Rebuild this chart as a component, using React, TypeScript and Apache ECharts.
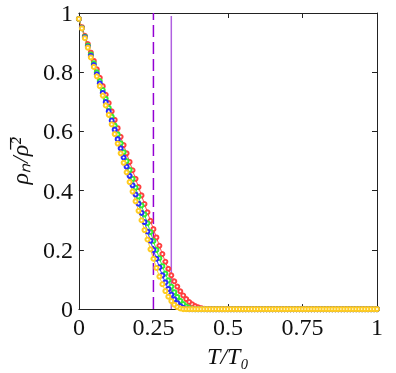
import React, { useEffect, useRef } from "react";
import * as echarts from "echarts";

const temps = [
  0, 0.01, 0.02, 0.03, 0.04, 0.05, 0.06, 0.07, 0.08, 0.09,
  0.1, 0.11, 0.12, 0.13, 0.14, 0.15, 0.16, 0.17, 0.18, 0.19,
  0.2, 0.21, 0.22, 0.23, 0.24, 0.25, 0.26, 0.27, 0.28, 0.29,
  0.3, 0.31, 0.32, 0.33, 0.34, 0.35, 0.36, 0.37, 0.38, 0.39,
  0.4, 0.41, 0.42, 0.43, 0.44, 0.45, 0.46, 0.47, 0.48, 0.49,
  0.5, 0.51, 0.52, 0.53, 0.54, 0.55, 0.56, 0.57, 0.58, 0.59,
  0.6, 0.61, 0.62, 0.63, 0.64, 0.65, 0.66, 0.67, 0.68, 0.69,
  0.7, 0.71, 0.72, 0.73, 0.74, 0.75, 0.76, 0.77, 0.78, 0.79,
  0.8, 0.81, 0.82, 0.83, 0.84, 0.85, 0.86, 0.87, 0.88, 0.89,
  0.9, 0.91, 0.92, 0.93, 0.94, 0.95, 0.96, 0.97, 0.98, 0.99,
  1,
];

const redVals = [
  0.98, 0.952, 0.923, 0.895, 0.866, 0.838, 0.81, 0.781, 0.753, 0.724,
  0.696, 0.668, 0.639, 0.611, 0.582, 0.554, 0.526, 0.497, 0.469, 0.44,
  0.412, 0.384, 0.355, 0.327, 0.298, 0.27, 0.242, 0.214, 0.186, 0.16,
  0.136, 0.114, 0.094, 0.076, 0.06, 0.046, 0.034, 0.024, 0.016, 0.01,
  0.006, 0.003, 0.001, 0, 0, 0, 0, 0, 0, 0,
  0, 0, 0, 0, 0, 0, 0, 0, 0, 0,
  0, 0, 0, 0, 0, 0, 0, 0, 0, 0,
  0, 0, 0, 0, 0, 0, 0, 0, 0, 0,
  0, 0, 0, 0, 0, 0, 0, 0, 0, 0,
  0, 0, 0, 0, 0, 0, 0, 0, 0, 0,
  0,
];

const greenVals = [
  0.98, 0.95, 0.92, 0.89, 0.86, 0.83, 0.8, 0.77, 0.74, 0.71,
  0.68, 0.65, 0.62, 0.59, 0.56, 0.53, 0.5, 0.47, 0.44, 0.41,
  0.38, 0.35, 0.32, 0.29, 0.26, 0.23, 0.2, 0.172, 0.145, 0.12,
  0.097, 0.076, 0.057, 0.041, 0.028, 0.017, 0.009, 0.004, 0.001, 0,
  0, 0, 0, 0, 0, 0, 0, 0, 0, 0,
  0, 0, 0, 0, 0, 0, 0, 0, 0, 0,
  0, 0, 0, 0, 0, 0, 0, 0, 0, 0,
  0, 0, 0, 0, 0, 0, 0, 0, 0, 0,
  0, 0, 0, 0, 0, 0, 0, 0, 0, 0,
  0, 0, 0, 0, 0, 0, 0, 0, 0, 0,
  0,
];

const blueVals = [
  0.98, 0.949, 0.918, 0.886, 0.855, 0.824, 0.793, 0.762, 0.73, 0.699,
  0.668, 0.637, 0.606, 0.574, 0.543, 0.512, 0.481, 0.45, 0.418, 0.387,
  0.356, 0.325, 0.294, 0.262, 0.231, 0.2, 0.17, 0.141, 0.114, 0.09,
  0.068, 0.049, 0.033, 0.02, 0.01, 0.004, 0.001, 0, 0, 0,
  0, 0, 0, 0, 0, 0, 0, 0, 0, 0,
  0, 0, 0, 0, 0, 0, 0, 0, 0, 0,
  0, 0, 0, 0, 0, 0, 0, 0, 0, 0,
  0, 0, 0, 0, 0, 0, 0, 0, 0, 0,
  0, 0, 0, 0, 0, 0, 0, 0, 0, 0,
  0, 0, 0, 0, 0, 0, 0, 0, 0, 0,
  0,
];

const yellowVals = [
  0.98, 0.948, 0.915, 0.883, 0.85, 0.818, 0.786, 0.753, 0.721, 0.688,
  0.656, 0.624, 0.591, 0.559, 0.526, 0.494, 0.462, 0.429, 0.397, 0.364,
  0.332, 0.3, 0.267, 0.235, 0.202, 0.17, 0.139, 0.11, 0.084, 0.061,
  0.042, 0.027, 0.015, 0.007, 0.002, 0, 0, 0, 0, 0,
  0, 0, 0, 0, 0, 0, 0, 0, 0, 0,
  0, 0, 0, 0, 0, 0, 0, 0, 0, 0,
  0, 0, 0, 0, 0, 0, 0, 0, 0, 0,
  0, 0, 0, 0, 0, 0, 0, 0, 0, 0,
  0, 0, 0, 0, 0, 0, 0, 0, 0, 0,
  0, 0, 0, 0, 0, 0, 0, 0, 0, 0,
  0,
];

const dashedT = 0.25;
const solidT = 0.31;

const FONT = "Liberation Serif";

export default function App() {
  const ref = useRef<HTMLDivElement>(null);
  useEffect(() => {
    if (!ref.current) return;
    const chart = echarts.init(ref.current, undefined, { renderer: "svg" });
    const mk = (name: string, vals: number[], color: string) => ({
      name,
      type: "line",
      data: temps.map((t, i) => [t, vals[i]]),
      symbol: "emptyCircle",
      symbolSize: 4,
      lineStyle: { color, width: 1 },
      itemStyle: { color, borderColor: color, borderWidth: 1 },
      z: 3,
    });
    const axisLine = { show: true, onZero: false, lineStyle: { color: "#222", width: 1 } };
    const axisTick = { show: true, inside: true, length: 5, lineStyle: { color: "#222" } };
    chart.setOption({
      animation: false,
      grid: { left: 74, right: 19, top: 13, bottom: 58 },
      xAxis: [
        {
          type: "value",
          min: 0,
          max: 1,
          interval: 0.25,
          axisLine,
          axisTick,
          splitLine: { show: false },
          axisLabel: { fontFamily: FONT, fontSize: 24, color: "#111", margin: 6 },
          name: "T/T₀",
          nameLocation: "middle",
          nameGap: 32,
          nameTextStyle: { fontFamily: FONT, fontSize: 24, fontStyle: "italic", color: "#111" },
        },
        {
          type: "value",
          position: "top",
          min: 0,
          max: 1,
          interval: 0.25,
          axisLine,
          axisTick,
          splitLine: { show: false },
          axisLabel: { show: false },
        },
      ],
      yAxis: [
        {
          type: "value",
          min: 0,
          max: 1,
          interval: 0.2,
          axisLine,
          axisTick,
          splitLine: { show: false },
          axisLabel: { fontFamily: FONT, fontSize: 24, color: "#111", margin: 6 },
          name: "ρₙ/ρ\u0305²",
          nameLocation: "middle",
          nameGap: 42,
          nameTextStyle: { fontFamily: FONT, fontSize: 24, fontStyle: "italic", color: "#111" },
        },
        {
          type: "value",
          position: "right",
          min: 0,
          max: 1,
          interval: 0.2,
          axisLine,
          axisTick,
          splitLine: { show: false },
          axisLabel: { show: false },
        },
      ],
      series: [
        {
          type: "line",
          data: [[dashedT, 0], [dashedT, 1]],
          symbol: "none",
          lineStyle: { color: "#9400d3", width: 1.5, type: [12, 5] },
          z: 2,
        },
        {
          type: "line",
          data: [[solidT, 0], [solidT, 0.99]],
          symbol: "none",
          lineStyle: { color: "#b060e0", width: 1.5 },
          z: 2,
        },
        mk("red", redVals, "#ff4040"),
        mk("green", greenVals, "#33ee33"),
        mk("blue", blueVals, "#2a2aff"),
        mk("yellow", yellowVals, "#ffcc22"),
      ],
    });
    return () => chart.dispose();
  }, []);
  return (
    <div
      ref={ref}
      style={{ position: "fixed", left: 0, top: 0, width: 396, height: 373 }}
    />
  );
}
